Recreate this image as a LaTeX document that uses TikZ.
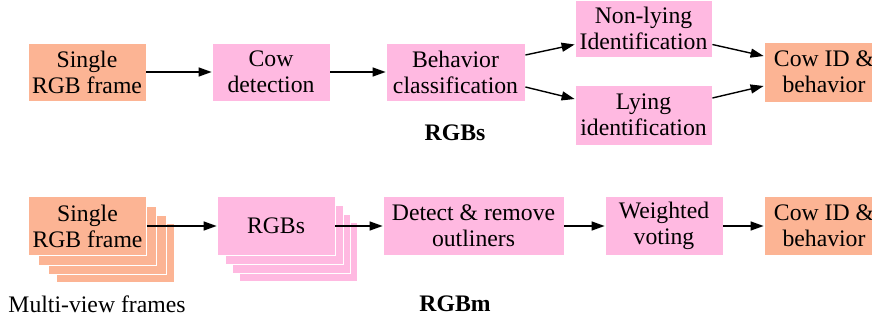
\documentclass[tikz,border=0pt]{standalone}
\usepackage{fontspec}
\setmainfont{Liberation Serif}
\usepackage{tikz}
\usetikzlibrary{arrows.meta}

\definecolor{boxorange}{RGB}{252,180,148}
\definecolor{boxpink}{RGB}{255,185,225}

\begin{document}
\begin{tikzpicture}[x=1pt,y=-1pt]
\useasboundingbox (0,0) rectangle (872,321);
\tikzset{
  box/.style={rectangle,draw=white,line width=0.8pt,align=center,inner sep=0pt,
    font=\fontsize{23.7}{26}\selectfont,minimum width=118pt,minimum height=58pt},
  obox/.style={box,fill=boxorange},
  pbox/.style={box,fill=boxpink},
  lbl/.style={font=\fontsize{23.7}{26}\selectfont},
  every edge/.style={draw,line width=1.4pt,-{Triangle[length=13pt,width=9pt]}}
}
% RGBs
\node[obox] (s1) at (87,72) {Single\\RGB frame};
\node[pbox] (det) at (271,72) {Cow\\detection};
\node[pbox,minimum width=139pt] (beh) at (455.5,72) {Behavior\\classification};
\node[pbox,minimum width=137pt,minimum height=57pt] (non) at (643.5,28.5) {Non-lying\\Identification};
\node[pbox,minimum width=137pt,minimum height=60pt] (ly) at (643.5,115) {Lying\\identification};
\node[obox,minimum width=120pt,minimum height=60pt] (id1) at (824,72) {Cow ID \&\\behavior};
\node[lbl,font=\fontsize{23.7}{26}\selectfont\bfseries] (t1) at (455,133) {RGBs};
\path (s1) edge (det);
\path (det) edge (beh);
\path ([yshift=17pt]beh.east) edge ([yshift=-16pt]non.west);
\path ([yshift=-15pt]beh.east) edge ([yshift=16pt]ly.west);
\path ([yshift=-16pt]non.east) edge ([yshift=16pt]id1.west);
\path ([yshift=17pt]ly.east) edge ([yshift=-14pt]id1.west);

% RGBm
\foreach \dx/\dy in {28/27,20/19,10/10}
  \node[obox,minimum height=59pt] at (87.5+\dx,226+\dy) {};
\foreach \dx/\dy in {22/26,15/18,8/9}
  \node[pbox,minimum height=59pt] at (276+\dx,226+\dy) {};
\node[obox,minimum height=59pt] (s2) at (87.5,226) {Single\\RGB frame};
\node[pbox,minimum height=59pt] (rgbs) at (276,226) {RGBs};
\node[pbox,minimum width=181pt,minimum height=59pt] (out) at (473.5,226) {Detect \& remove\\outliners};
\node[pbox,minimum height=59pt] (vote) at (664,226) {Weighted\\voting};
\node[obox,minimum width=120pt,minimum height=59pt] (id2) at (824,226) {Cow ID \&\\behavior};
\node[lbl] (mv) at (97,304) {Multi-view frames};
\node[lbl,font=\fontsize{23.7}{26}\selectfont\bfseries] (t2) at (455,304) {RGBm};
\path (s2) edge (rgbs);
\path (rgbs) edge (out);
\path (out) edge (vote);
\path (vote) edge (id2);
\end{tikzpicture}
\end{document}
